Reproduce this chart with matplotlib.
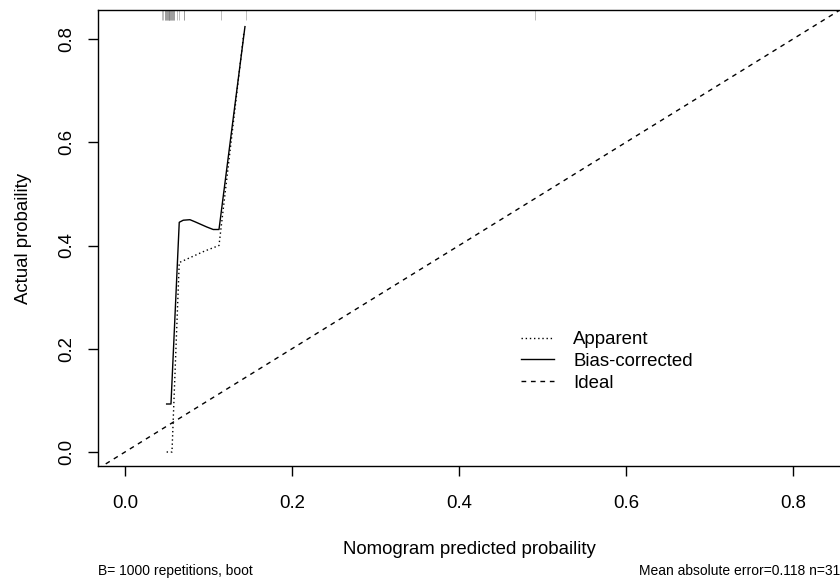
import matplotlib
matplotlib.use("Agg")
import matplotlib.pyplot as plt
import matplotlib.transforms as mtransforms
from matplotlib.lines import Line2D

plt.rcParams['font.family'] = ['Liberation Sans', 'DejaVu Sans']

# Apparent calibration curve
apparent_x = [0.0499, 0.0563, 0.0650, 0.0800, 0.0950, 0.1126, 0.1425]
apparent_y = [0.000, 0.000, 0.367, 0.378, 0.389, 0.400, 0.814]

# Bias-corrected calibration curve
bias_x = [0.0499, 0.0551, 0.0650, 0.0698, 0.0778, 0.0838, 0.0978, 0.1057, 0.1126, 0.1437]
bias_y = [0.093, 0.093, 0.445, 0.449, 0.450, 0.446, 0.436, 0.431, 0.431, 0.824]

# Ideal line
ideal = [-0.1, 1.0]

# Rug of predicted probabilities (top)
rug_x = [0.0443, 0.0461, 0.0479, 0.0479, 0.0491, 0.0491, 0.0503, 0.0503, 0.0515,
         0.0515, 0.0527, 0.0527, 0.0527, 0.0539, 0.0539, 0.0551, 0.0551, 0.0563,
         0.0563, 0.0575, 0.0575, 0.0587, 0.0587, 0.0619, 0.0643, 0.0710, 0.0710,
         0.1153, 0.1445, 0.4910, 0.0527]

x_ticks = [0.0, 0.2, 0.4, 0.6, 0.8]
y_ticks = [0.0, 0.2, 0.4, 0.6, 0.8]
tick_labels = ["0.0", "0.2", "0.4", "0.6", "0.8"]

FS = 13.4
DOT = (1.0, 2.0)
DASH = (3.4, 3.4)

W, H = 840, 578
fig = plt.figure(figsize=(W / 100, H / 100), dpi=100)
ax = fig.add_axes([98 / W, (H - 466) / H, (841 - 98) / W, (466 - 10) / H])

ax.set_xlim(-0.0323, 0.8575)
ax.set_ylim(-0.0271, 0.8562)

ax.plot(ideal, ideal, color='black', lw=1.0, dashes=DASH)
ax.plot(apparent_x, apparent_y, color='black', lw=1.0, dashes=DOT)
ax.plot(bias_x, bias_y, color='black', lw=1.0)

trans = mtransforms.blended_transform_factory(ax.transData, ax.transAxes)
for rx in rug_x:
    ax.plot([rx, rx], [1.0, 0.979], color='0.5', lw=0.6, alpha=0.6,
            transform=trans, solid_capstyle='butt')

for s in ax.spines.values():
    s.set_linewidth(1.0)

ax.set_xticks(x_ticks)
ax.set_xticklabels(tick_labels)
ax.set_yticks(y_ticks)
ax.set_yticklabels(tick_labels, rotation=90, va='center')
ax.tick_params(axis='both', direction='out', length=7.5, width=1.0,
               labelsize=FS)
ax.tick_params(axis='x', pad=13.5)
ax.tick_params(axis='y', pad=9)

ax.set_xlabel("Nomogram predicted probaility", fontsize=FS, labelpad=21)
ax.set_ylabel("Actual probaility", fontsize=FS, labelpad=19)

handles = [Line2D([], [], color='black', lw=1.0, dashes=DOT),
           Line2D([], [], color='black', lw=1.0),
           Line2D([], [], color='black', lw=1.0, dashes=DASH)]
ax.legend(handles, ["Apparent", "Bias-corrected", "Ideal"], frameon=False,
          fontsize=FS, handlelength=1.75, handletextpad=1.05, labelspacing=0.26,
          loc='upper left', bbox_to_anchor=(521 / W, (H - 331) / H),
          bbox_transform=fig.transFigure, borderpad=0, borderaxespad=0)

fig.text(98 / W, (H - 571) / H, "B= 1000 repetitions, boot", fontsize=10,
         ha='left', va='center')
fig.text(840 / W, (H - 571) / H, "Mean absolute error=0.118 n=31", fontsize=10,
         ha='right', va='center')

fig.savefig("out.png", dpi=100)
